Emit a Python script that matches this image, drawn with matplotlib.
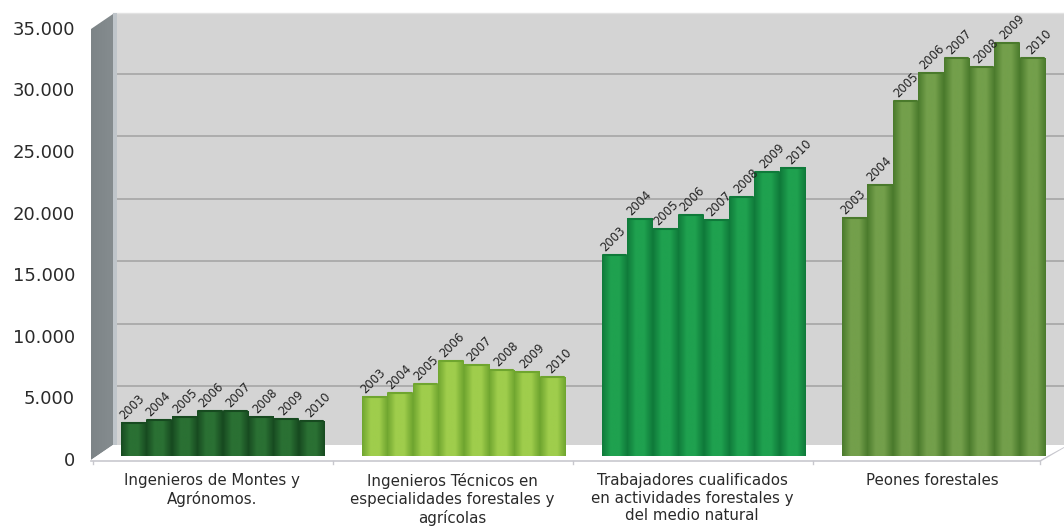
import numpy as np
import matplotlib
matplotlib.use("Agg")
import matplotlib.pyplot as plt
from matplotlib.patches import Polygon, Rectangle

years = ["2003", "2004", "2005", "2006", "2007", "2008", "2009", "2010"]
categories = [
    "Ingenieros de Montes y\nAgrónomos.",
    "Ingenieros Técnicos en\nespecialidades forestales y\nagrícolas",
    "Trabajadores cualificados\nen actividades forestales y\ndel medio natural",
    "Peones forestales",
]
montes = [2680, 2920, 3170, 3650, 3650, 3170, 3000, 2840]
tecnicos = [4790, 5110, 5840, 7710, 7390, 6980, 6820, 6410]
trabajadores = [16300, 19240, 18430, 19560, 19160, 21020, 23050, 23380]
peones = [19320, 22000, 28800, 31090, 32300, 31570, 33520, 32300]
series = [montes, tecnicos, trabajadores, peones]
# edge, middle colours of each group
colors = [("#174a20", "#2a7033"), ("#6fa52f", "#9fcd4c"), ("#0f7a3a", "#1fa14f"), ("#4a7a2c", "#739f4b")]
yticks = [0, 5000, 10000, 15000, 20000, 25000, 30000, 35000]
ylabels = ["0", "5.000", "10.000", "15.000", "20.000", "25.000", "30.000", "35.000"]

W, H = 1064, 526
PX = 5000 / 61.6   # value per pixel
BASE = 456


def yv(p):
    # pixel row to value
    return (BASE - p) * PX


fig = plt.figure(figsize=(W / 100, H / 100), dpi=100)
ax = fig.add_axes([0, 0, 1, 1])
ax.set_xlim(0, W)
ax.set_ylim(yv(H), yv(0))
ax.axis("off")

# back wall
ax.add_patch(Rectangle((113, yv(445)), W - 113, yv(13) - yv(445), fc="#d4d4d4", ec="none", zorder=1))
ax.plot([113, W], [yv(13), yv(13)], color="#e2e2e2", lw=1, zorder=1.2)
for v in yticks[1:-1]:
    # the back wall sits higher than the front scale
    ax.plot([113, W], [yv(448.4 - v / 5000 * 62.4)] * 2, color="#a9a9a9", lw=1.3, zorder=1.5)

# left wall
grad = np.linspace(0, 1, 64).reshape(1, -1)
cm = matplotlib.colors.LinearSegmentedColormap.from_list("w", ["#7d8487", "#858c8f"])
im = ax.imshow(grad, extent=[91, 113, yv(460), yv(14)], aspect="auto", cmap=cm, zorder=2)
wall = Polygon([(91, yv(29)), (113, yv(14)), (113, yv(445)), (91, yv(460))], fc="none", ec="none", zorder=2)
ax.add_patch(wall)
im.set_clip_path(wall)
ax.add_patch(Rectangle((113, yv(445)), 4, yv(13) - yv(445), fc="#bfc5ca", ec="none", zorder=1.8))
ax.set_xlim(0, W)
ax.set_ylim(yv(H), yv(0))

# floor
ax.plot([91, 1040, W], [yv(461), yv(461), yv(447)], color="#c8c8ce", lw=1.2, zorder=2)
for x in [93, 333, 573, 813, 1040]:
    ax.plot([x, x], [yv(461), yv(464)], color="#c8c8ce", lw=1, zorder=2)
ax.add_patch(Polygon([(113, yv(445)), (W, yv(445)), (W, yv(447)), (1040, yv(460)), (91, yv(460))],
                     fc="white", ec="none", zorder=2.1))

# bars
bar_w = 25.4
starts = [121, 362, 602, 842]
for g, vals in enumerate(series):
    edge, mid = colors[g]
    cm = matplotlib.colors.LinearSegmentedColormap.from_list("b", [edge, mid, mid, edge])
    for i, v in enumerate(vals):
        x0 = starts[g] + i * bar_w
        ax.imshow(grad, extent=[x0, x0 + bar_w, 0, v], aspect="auto", cmap=cm, zorder=3 + i * 0.01)
        ax.plot([x0 + 1, x0 + bar_w - 1], [v, v], color=edge, lw=1.5, zorder=3.5, solid_capstyle="round")
        ax.text(x0 + bar_w / 2 - 2 + i * 1.2, v + 16 * PX, years[i], rotation=45, fontsize=8.4, color="#222222",
                ha="center", va="center", rotation_mode="anchor", zorder=4)
ax.set_xlim(0, W)
ax.set_ylim(yv(H), yv(0))

# tick labels
for v, lab in zip(yticks, ylabels):
    ax.text(75, v - 5 * PX, lab, fontsize=13, color="#2a2a2a", ha="right", va="center")

# category labels
for c, cx in zip(categories, [212, 452, 692, 932]):
    ax.text(cx, yv(473), c, fontsize=10.8, color="#2a2a2a", ha="center", va="top", linespacing=1.22)

fig.savefig("out.png", dpi=100, facecolor="white")
